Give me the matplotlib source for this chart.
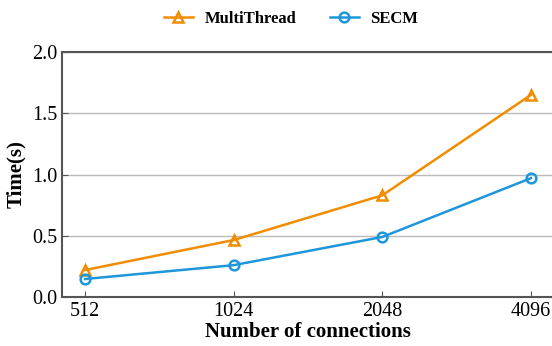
import matplotlib.pyplot as plt

connections = ["512", "1024", "2048", "4096"]
multithread = [0.22, 0.465, 0.83, 1.65]
secm = [0.147, 0.26, 0.49, 0.97]

plt.rcParams['font.family'] = ['Liberation Serif', 'DejaVu Serif']

fig = plt.figure(figsize=(5.52, 3.46), dpi=100)
ax = fig.add_axes([62 / 552, 49 / 346, 492 / 552, 245 / 346])

x = range(len(connections))
ax.plot(x, multithread, color="#F28C00", marker="^", markersize=7.5, markerfacecolor="none",
        markeredgewidth=1.8, linewidth=1.8, label="MultiThread", zorder=3)
ax.plot(x, secm, color="#1E96DC", marker="o", markersize=7, markerfacecolor="none",
        markeredgewidth=1.8, linewidth=1.8, label="SECM", zorder=3)

ax.set_xlim(-0.155, 3.155)
ax.set_ylim(0, 2.0)
ax.set_xticks(list(x))
ax.set_xticklabels(connections)
ax.set_yticks([0.0, 0.5, 1.0, 1.5, 2.0])
ax.set_yticklabels(["0.0", "0.5", "1.0", "1.5", "2.0"])
ax.tick_params(direction="in", labelsize=14.5, length=4, color="#555555")
ax.yaxis.grid(True, color="#BBBBBB", linewidth=1)
ax.set_axisbelow(True)
for s in ax.spines.values():
    s.set_color("#555555")
    s.set_linewidth(1.5)

ax.set_xlabel("Number of connections", fontsize=15, fontweight="bold", labelpad=1)
ax.set_ylabel("Time(s)", fontsize=15, fontweight="bold", labelpad=4)

fig.legend(loc="upper center", bbox_to_anchor=(0.527, 1.012), ncol=2, frameon=False,
           prop={"weight": "bold", "size": 12}, columnspacing=2.0, handlelength=1.75,
           handletextpad=0.7)

fig.savefig("out.png", dpi=100)
